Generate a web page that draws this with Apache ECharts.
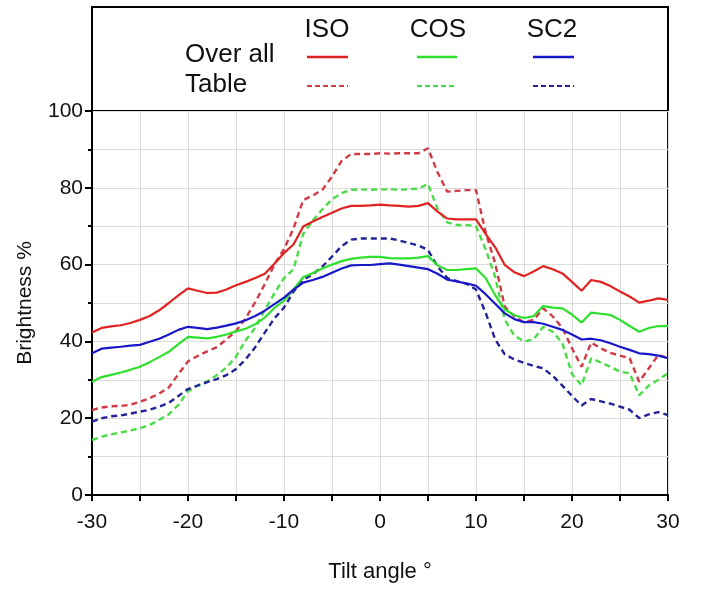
<!DOCTYPE html>
<html><head><meta charset="utf-8">
<script src="https://cdn.jsdelivr.net/npm/echarts@6/dist/echarts.min.js"></script>
<style>html,body{margin:0;padding:0;background:#fff}#c{width:701px;height:591px}</style>
</head><body><div id="c"></div><script>
const angles = [-30,-29,-28,-27,-26,-25,-24,-23,-22,-21,-20,-19,-18,-17,-16,-15,-14,-13,-12,-11,-10,-9,-8,-7,-6,-5,-4,-3,-2,-1,0,1,2,3,4,5,6,7,8,9,10,11,12,13,14,15,16,17,18,19,20,21,22,23,24,25,26,27,28,29,30];
const isoOverall = [42.3,43.5,43.9,44.2,44.8,45.6,46.6,48.1,50.0,52.0, 53.8,53.2,52.6,52.7,53.5,54.6,55.5,56.5,57.6,60.2, 63.0,65.3,69.9,71.2,72.4,73.5,74.6,75.3,75.3,75.4, 75.6,75.4,75.3,75.1,75.3,76.0,73.8,72.0,71.8,71.8, 71.8,68.0,64.5,59.9,58.0,57.0,58.2,59.6,58.8,57.7, 55.5,53.2,56.0,55.5,54.4,53.0,51.7,50.1,50.6,51.2,50.8];
const cosOverall = [29.5,30.7,31.3,31.9,32.6,33.4,34.6,35.9,37.3,39.3, 41.2,41.0,40.8,41.2,41.8,42.6,43.3,44.5,46.2,48.7, 50.6,53.6,56.7,57.8,59.0,60.0,60.9,61.5,61.8,62.0, 62.0,61.7,61.6,61.6,61.8,62.2,59.8,58.6,58.6,58.8, 59.0,56.5,52.0,48.3,46.8,46.1,46.6,49.2,48.8,48.6, 47.0,44.9,47.5,47.2,46.9,45.6,44.0,42.5,43.5,44.0,44.0];
const sc2Overall = [36.9,38.1,38.4,38.6,38.9,39.1,39.9,40.7,41.8,43.0, 43.8,43.5,43.2,43.6,44.1,44.7,45.5,46.6,48.0,49.7, 51.4,53.5,55.3,56.0,56.8,57.9,59.0,59.8,59.9,59.9, 60.1,60.3,60.0,59.6,59.2,58.8,57.6,56.1,55.6,55.1, 54.5,52.3,49.8,47.3,45.8,45.0,45.0,44.6,43.8,43.0, 41.8,40.5,40.7,40.3,39.5,38.6,37.8,36.9,36.7,36.3,35.6];
const isoTable = [22.1,22.8,23.1,23.2,23.5,24.3,25.2,26.4,28.0,31.5, 34.8,36.2,37.4,38.5,40.5,42.7,46.0,50.2,54.9,60.0, 64.0,69.5,76.8,78.0,79.5,82.9,87.0,88.8,88.8,88.8, 89.0,88.9,89.0,89.0,89.0,90.3,84.0,79.0,79.2,79.4, 79.4,68.5,60.3,49.0,46.5,45.0,45.6,48.6,46.5,43.5, 38.2,33.4,39.7,38.2,37.0,36.3,35.6,29.5,33.0,36.5,35.6];
const cosTable = [14.3,15.2,15.8,16.3,16.8,17.4,18.2,19.6,21.0,23.5, 27.0,28.5,29.6,31.2,33.2,36.0,40.3,43.5,48.2,52.5, 56.5,58.8,68.0,71.5,74.4,77.0,78.6,79.5,79.6,79.5, 79.6,79.6,79.5,79.6,79.8,81.0,74.5,71.0,70.3,70.3, 70.0,64.0,56.8,45.6,41.5,40.0,40.5,43.8,42.5,39.5, 31.5,28.6,35.6,34.5,33.4,32.1,31.7,26.0,28.5,30.0,31.7];
const sc2Table = [19.1,20.0,20.5,20.7,21.2,21.7,22.2,23.0,24.0,25.8, 27.6,28.5,29.4,30.2,31.2,32.8,35.3,38.5,42.3,46.0, 48.8,53.0,56.0,57.5,59.5,62.1,64.8,66.5,66.8,66.8, 66.8,66.8,66.3,65.6,65.0,63.8,59.5,56.5,55.7,55.0, 53.5,47.5,40.5,36.6,35.3,34.4,33.6,33.0,31.0,28.5, 25.8,23.3,25.0,24.4,23.8,23.0,22.2,20.0,21.0,21.6,20.8];
const yTicks = [0,20,40,60,80,100];
const xTicks = [-30,-20,-10,0,10,20,30];
const colHeads = ['ISO','COS','SC2'];
const rowHeads = ['Over all','Table'];

const FONT = 'Liberation Sans, Arial, sans-serif';
const C = {iso:'#e02222', cos:'#2ee02e', sc2:'#1818c8', isoD:'#d23a48', cosD:'#48dc48', sc2D:'#24249a'};
const pair = v => angles.map((a,i)=>[a, v[i]]);
function line(name, data, color, dashed){
  return {name, type:'line', data: pair(data), showSymbol:false, symbol:'none', smooth:false,
    lineStyle:{color, width: dashed?2.4:2.2, type: dashed?[6,4]:'solid'}, itemStyle:{color}, z: dashed?3:4};
}
const chart = echarts.init(document.getElementById('c'), null, {renderer:'canvas'});
const legendKeys = [
  {x:[307,348], color:C.iso, dcolor:C.isoD},
  {x:[417,457], color:C.cos, dcolor:C.cosD},
  {x:[533,574], color:C.sc2, dcolor:C.sc2D}
];
const headX = [327, 438, 552];
const graphic = [
  {type:'rect', shape:{x:92, y:7, width:576, height:104}, style:{fill:'#fff', stroke:'#000', lineWidth:2}, z:0},
  {type:'text', x:185, y:55, style:{text:rowHeads[0], font:'26px '+FONT, fill:'#111', textAlign:'left', textVerticalAlign:'middle'}},
  {type:'text', x:185, y:85, style:{text:rowHeads[1], font:'26px '+FONT, fill:'#111', textAlign:'left', textVerticalAlign:'middle'}}
];
colHeads.forEach((h,i)=>{
  graphic.push({type:'text', x:headX[i], y:30, style:{text:h, font:'26px '+FONT, fill:'#111', textAlign:'center', textVerticalAlign:'middle'}});
  const k = legendKeys[i];
  graphic.push({type:'line', shape:{x1:k.x[0], y1:57, x2:k.x[1], y2:57}, style:{stroke:k.color, lineWidth:2.5}});
  graphic.push({type:'line', shape:{x1:k.x[0], y1:86, x2:k.x[1], y2:86}, style:{stroke:k.dcolor, lineWidth:2, lineDash:[5,3]}});
});
chart.setOption({
  backgroundColor:'#fff',
  animation:false,
  textStyle:{fontFamily:FONT},
  grid:{left:92, right:33, top:111, bottom:96, show:true, borderColor:'#000', borderWidth:2, backgroundColor:'#fffffd'},
  xAxis:{type:'value', min:-30, max:30, interval:10,
    name:'Tilt angle °', nameLocation:'middle', nameGap:66, nameTextStyle:{fontSize:22, color:'#111', fontFamily:FONT},
    axisLine:{show:true, onZero:false, lineStyle:{color:'#000', width:2}},
    axisTick:{show:true, length:6, lineStyle:{color:'#000', width:2}},
    minorTick:{show:true, splitNumber:2, length:6, lineStyle:{color:'#000', width:2}},
    axisLabel:{fontSize:21, color:'#111', margin:17},
    splitLine:{show:true, lineStyle:{color:'#dcdcdc', width:1.2}},
    minorSplitLine:{show:true, lineStyle:{color:'#dcdcdc', width:1.2}}
  },
  yAxis:{type:'value', min:0, max:100, interval:20,
    name:'Brightness %', nameLocation:'middle', nameGap:56, nameTextStyle:{fontSize:21, color:'#111', fontFamily:FONT},
    axisLine:{show:true, onZero:false, lineStyle:{color:'#000', width:2}},
    axisTick:{show:true, length:7, lineStyle:{color:'#000', width:2}},
    minorTick:{show:true, splitNumber:2, length:4, lineStyle:{color:'#000', width:2}},
    axisLabel:{fontSize:21, color:'#111', margin:9},
    splitLine:{show:true, lineStyle:{color:'#dcdcdc', width:1.2}},
    minorSplitLine:{show:true, lineStyle:{color:'#dcdcdc', width:1.2}}
  },
  graphic,
  series:[
    line('ISO Table', isoTable, C.isoD, true),
    line('COS Table', cosTable, C.cosD, true),
    line('SC2 Table', sc2Table, C.sc2D, true),
    line('ISO Over all', isoOverall, C.iso, false),
    line('COS Over all', cosOverall, C.cos, false),
    line('SC2 Over all', sc2Overall, C.sc2, false)
  ]
});
</script></body></html>
